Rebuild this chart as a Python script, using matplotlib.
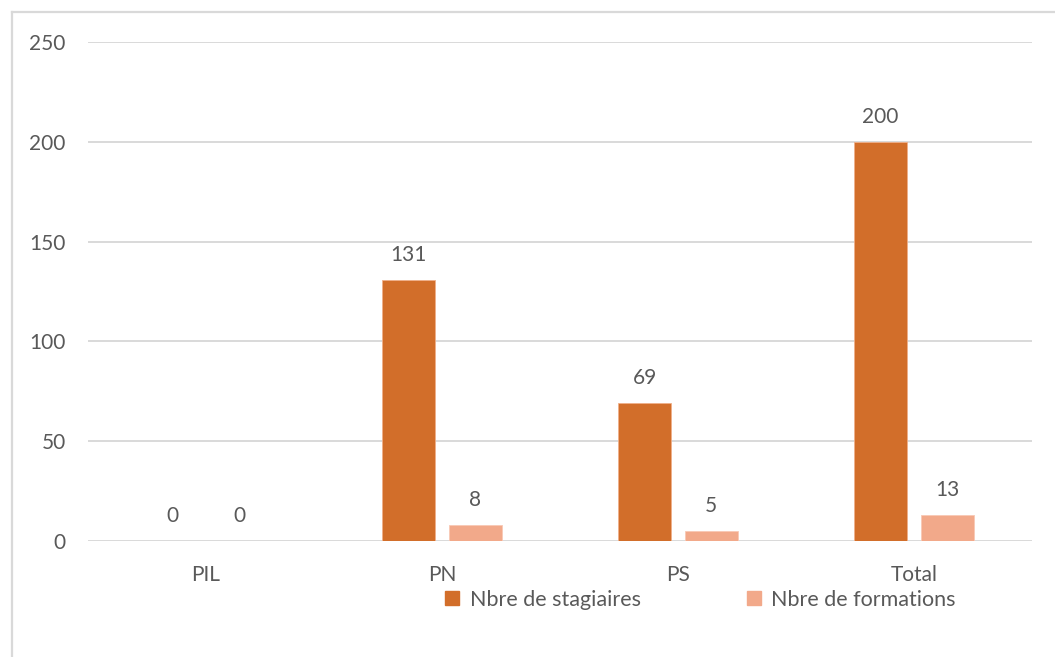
import matplotlib
matplotlib.use("Agg")
import matplotlib.pyplot as plt
import numpy as np
from matplotlib.lines import Line2D

categories = ["PIL", "PN", "PS", "Total"]
stagiaires = [0, 131, 69, 200]
formations = [0, 8, 5, 13]
labels = ["Nbre de stagiaires", "Nbre de formations"]
colors = ["#D26E2A", "#F2A98A"]
txt = "#595959"

plt.rcParams['font.family'] = ['Lato', 'DejaVu Sans']

fig = plt.figure(figsize=(10.55, 6.57), dpi=100)
ax = fig.add_axes([0.0834, 0.1766, 0.8946, 0.7594])

x = np.arange(len(categories))
w = 0.225
off = 0.141
b1 = ax.bar(x - off, stagiaires, w, color=colors[0], edgecolor="#F0B08A", linewidth=0.6, zorder=3)
b2 = ax.bar(x + off, formations, w, color=colors[1], edgecolor="#F8C9B5", linewidth=0.6, zorder=3)

for bars, vals in ((b1, stagiaires), (b2, formations)):
    for r, v in zip(bars, vals):
        ax.annotate(str(v), (r.get_x() + r.get_width() / 2, v), xytext=(0, 18),
                    textcoords="offset points", ha="center", va="center",
                    fontsize=15, color=txt)

ax.set_xlim(-0.5, 3.5)
ax.set_ylim(0, 250)
ax.set_yticks(range(0, 251, 50))
ax.set_xticks(x)
ax.set_xticklabels(categories)
ax.tick_params(axis="both", length=0, labelsize=15, labelcolor=txt)
ax.tick_params(axis="y", pad=16)
ax.tick_params(axis="x", pad=17)
ax.grid(axis="y", color="#D9D9D9", linewidth=1.4, zorder=0)
ax.set_axisbelow(True)
for s in ax.spines.values():
    s.set_visible(False)

handles = [Line2D([], [], marker="s", linestyle="", markersize=10, color=c) for c in colors]
leg = fig.legend(handles, labels, loc="center", bbox_to_anchor=(0.6626, 0.087), ncol=2,
                 frameon=False, fontsize=15.5, labelcolor=txt, handletextpad=0.35,
                 columnspacing=4.8, handlelength=0.9)

# chart frame (only left/top edges visible in the crop)
fig.add_artist(Line2D([12 / 1055, 12 / 1055], [0, 1 - 12 / 657], transform=fig.transFigure,
                      color="#D9D9D9", linewidth=1.6))
fig.add_artist(Line2D([12 / 1055, 1], [1 - 12 / 657, 1 - 12 / 657], transform=fig.transFigure,
                      color="#D9D9D9", linewidth=1.6))

fig.savefig("out.png", dpi=100, facecolor="white")
